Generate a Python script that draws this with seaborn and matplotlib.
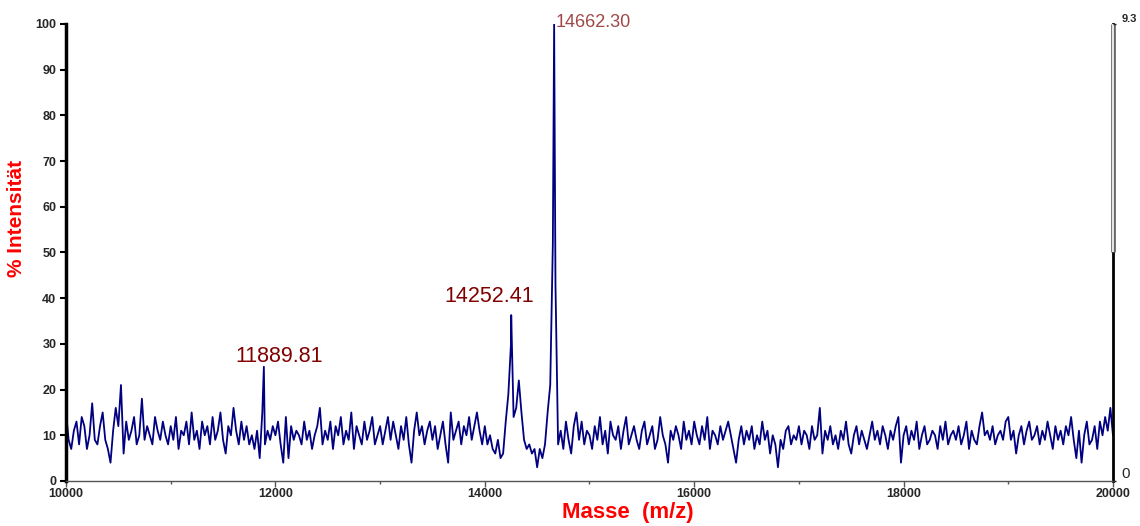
"""Mass spectrum (MALDI-style) with labelled peaks."""

import matplotlib
matplotlib.use("Agg")
import matplotlib.pyplot as plt
from matplotlib.ticker import MultipleLocator
import numpy as np
import pandas as pd
import seaborn as sns

# ---------------------------------------------------------------------------
# Data
# ---------------------------------------------------------------------------
mz_start = 10000
mz_step = 25

# relative intensity (%) sampled every 25 Da from 10000 to 20000
intensity = [
    15, 9, 7, 11, 13, 8, 14, 12, 7, 10, 17, 9, 8, 12, 15, 9, 7, 4, 11, 16,
    12, 21, 6, 13, 9, 11, 14, 8, 10, 18, 9, 12, 10, 8, 14, 11, 9, 13, 10, 8,
    12, 9, 14, 7, 11, 10, 13, 8, 15, 9, 11, 7, 13, 10, 12, 8, 14, 9, 11, 15,
    9, 6, 12, 10, 16, 11, 8, 13, 9, 12, 8, 10, 7, 11, 5, 15, 8, 11, 9, 12,
    10, 13, 8, 4, 14, 5, 12, 9, 11, 10, 8, 13, 9, 11, 7, 10, 12, 16, 8, 11,
    9, 13, 7, 12, 10, 14, 8, 11, 9, 15, 7, 12, 10, 8, 13, 9, 11, 14, 8, 10,
    12, 8, 11, 14, 9, 13, 10, 7, 12, 9, 14, 8, 4, 11, 15, 10, 12, 8, 11, 13,
    9, 12, 7, 10, 13, 8, 4, 15, 9, 11, 13, 8, 12, 10, 14, 9, 12, 15, 11, 8,
    12, 8, 10, 7, 6, 9, 5, 6, 13, 19, 30, 14, 16, 22, 15, 9, 7, 8, 6, 7,
    3, 7, 5, 8, 15, 21, 52, 43, 8, 11, 7, 13, 9, 6, 12, 15, 9, 13, 8, 11,
    10, 7, 12, 9, 14, 8, 11, 6, 13, 10, 9, 12, 7, 11, 14, 8, 10, 12, 9, 7,
    11, 13, 8, 10, 12, 7, 9, 14, 10, 8, 4, 11, 9, 12, 10, 7, 13, 9, 11, 8,
    13, 10, 8, 12, 9, 14, 7, 11, 10, 8, 12, 9, 11, 13, 10, 7, 4, 9, 12, 8,
    11, 9, 12, 7, 10, 8, 13, 9, 11, 6, 10, 8, 3, 9, 7, 11, 12, 8, 10, 9,
    12, 8, 11, 10, 7, 12, 9, 10, 16, 6, 11, 9, 12, 8, 10, 7, 11, 9, 13, 8,
    6, 10, 12, 8, 11, 9, 7, 10, 13, 9, 11, 8, 12, 10, 7, 11, 9, 12, 14, 4,
    10, 12, 8, 11, 9, 13, 7, 10, 12, 8, 9, 11, 10, 7, 12, 9, 13, 8, 10, 11,
    9, 12, 8, 10, 13, 7, 11, 9, 8, 12, 15, 10, 11, 9, 12, 8, 10, 11, 9, 13,
    14, 9, 11, 6, 10, 12, 8, 11, 13, 9, 10, 12, 8, 11, 9, 13, 10, 7, 12, 9,
    11, 8, 12, 10, 14, 9, 5, 11, 4, 10, 13, 8, 9, 12, 7, 13, 10, 14, 11, 16,
    10,
]

# labelled peak apices
peak_mz = [11889.81, 14252.41, 14662.30]
peak_int = [25, 36.3, 100]
peak_labels = ["11889.81", "14252.41", "14662.30"]

right_scale_max = 9.3

# ---------------------------------------------------------------------------
# Plot
# ---------------------------------------------------------------------------
sns.set_theme(style="white")
plt.rcParams["font.family"] = ["Liberation Sans", "DejaVu Sans"]

grid_mz = mz_start + mz_step * np.arange(len(intensity))
df = pd.concat([
    pd.DataFrame({"mz": grid_mz, "intensity": intensity}),
    pd.DataFrame({"mz": peak_mz, "intensity": peak_int}),
]).sort_values("mz")

fig = plt.figure(figsize=(11.4, 5.26), dpi=100)
ax = fig.add_axes([0.0579, 0.0856, 0.9184, 0.8688])

sns.lineplot(data=df, x="mz", y="intensity", sort=False, estimator=None,
             color="#000080", linewidth=1.3, ax=ax)

ax.set_xlim(grid_mz[0], grid_mz[-1])
ax.set_ylim(0, 100)
ax.xaxis.set_major_locator(MultipleLocator(2000))
ax.xaxis.set_minor_locator(MultipleLocator(1000))
ax.yaxis.set_major_locator(MultipleLocator(10))

for lab in ax.get_xticklabels() + ax.get_yticklabels():
    lab.set_fontweight("bold")
ax.tick_params(axis="y", which="major", direction="out", length=4, width=1.5,
               color="black", labelsize=9, pad=3, left=True)
ax.tick_params(axis="x", which="major", direction="out", length=4, width=1,
               color="#555555", labelsize=9, pad=1, bottom=True)
ax.tick_params(axis="x", which="minor", direction="out", length=2, width=1,
               color="#555555", bottom=True)

ax.spines["top"].set_visible(False)
ax.spines["left"].set_color("black")
ax.spines["left"].set_linewidth(2.5)
ax.spines["bottom"].set_color("#555555")
ax.spines["bottom"].set_linewidth(1)
ax.spines["right"].set_color("black")
ax.spines["right"].set_linewidth(2)

# upper half of the right-hand scale bar is drawn hollow
xr = ax.get_xlim()[1]
ax.axvline(xr, 0.5, 1.0, color="#666666", linewidth=3.4,
           solid_capstyle="butt", zorder=5, clip_on=False)
ax.axvline(xr, 0.5, 1.0, color="white", linewidth=1.2,
           solid_capstyle="butt", zorder=6, clip_on=False)

ax.set_xlabel("Masse  (m/z)", color="red", fontsize=16, fontweight="bold")
ax.xaxis.set_label_coords(0.537, -0.045)
ax.set_ylabel("% Intensität", color="red", fontsize=15, fontweight="bold")
ax.yaxis.set_label_coords(-0.038, 0.575)

# peak annotations
offsets = [(11, 0), (-16, 6), (1, -5)]
aligns = ["center", "center", "left"]
colors = ["#800000", "#800000", "#a04848"]
sizes = [15.5, 15.5, 13]
for mz, it, txt, off, ha, col, fs in zip(peak_mz, peak_int, peak_labels,
                                         offsets, aligns, colors, sizes):
    ax.annotate(txt, xy=(mz, it), xytext=off, textcoords="offset points",
                ha=ha, va="bottom", color=col, fontsize=fs)

# secondary (absolute) scale on the right
ax2 = ax.twinx()
ax2.set_ylim(0, right_scale_max)
ax2.set_yticks([0, right_scale_max])
ax2.set_yticklabels(["0", f"{right_scale_max}"])
ax2.tick_params(axis="y", direction="out", length=2, width=1, pad=4, right=True)
for sp in ax2.spines.values():
    sp.set_visible(False)
lab0, lab1 = ax2.get_yticklabels()
lab0.set_fontsize(11)
lab0.set_verticalalignment("bottom")
lab1.set_fontsize(8)
lab1.set_fontweight("bold")
lab1.set_verticalalignment("bottom")

fig.savefig("out.png", dpi=100)
plt.close(fig)
